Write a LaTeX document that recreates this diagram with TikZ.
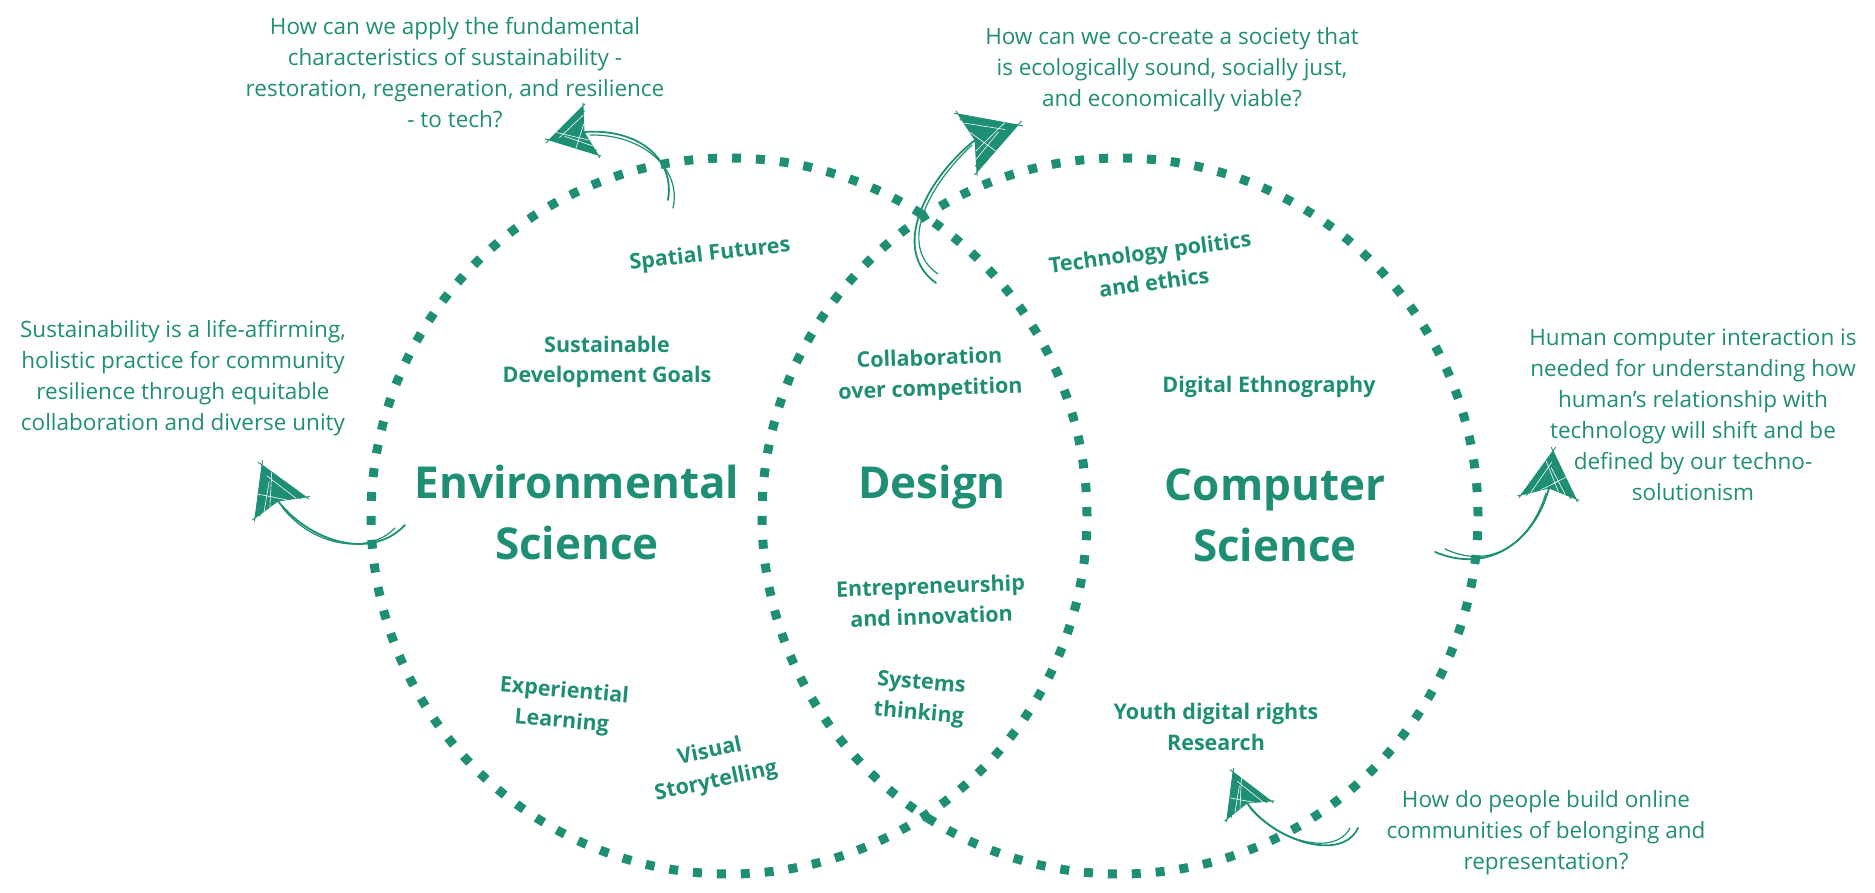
\documentclass[tikz,border=0pt]{standalone}
\usepackage{fontspec}
\setmainfont{Open Sans}
\usetikzlibrary{calc}
\definecolor{vennteal}{RGB}{30,142,116}

% scribbled dart head: #1t tip, #1a corner, #1n notch, #1b corner
\newcommand\sketchhead[1]{%
  \fill[vennteal] (#1t) -- (#1a) -- (#1n) -- (#1b) -- cycle;
  \draw[vennteal, line width=0.9pt, line cap=round, line join=round]
    ($(#1t)!-0.08!(#1a)$) -- ($(#1a)!-0.06!(#1t)$)
    ($(#1t)!-0.08!(#1b)$) -- ($(#1b)!-0.06!(#1t)$)
    ($(#1a)!-0.12!(#1n)$) -- (#1n) -- ($(#1b)!-0.12!(#1n)$)
    ($(#1t)!0.06!(#1a)$) -- ($(#1a)!0.1!(#1b)$)
    ($(#1t)!0.06!(#1b)$) -- ($(#1b)!0.1!(#1a)$)
    ($(#1a)!0.05!(#1t)$) -- ($(#1n)!0.2!(#1t)$) -- ($(#1b)!0.05!(#1t)$);
  \draw[white, line width=0.6pt, line cap=round]
    ($(#1t)!0.3!(#1n)$) -- ($(#1a)!0.35!(#1n)$)
    ($(#1t)!0.45!(#1n)$) -- ($(#1b)!0.4!(#1n)$)
    ($(#1t)!0.22!(#1a)$) -- ($(#1n)!0.35!(#1b)$)
    ($(#1t)!0.55!(#1b)$) -- ($(#1n)!0.3!(#1a)$);
}

\begin{document}
\begin{tikzpicture}[x=1pt,y=-1pt,
  ring/.style={draw=vennteal, line width=9pt, dash pattern=on 9pt off 14.93pt},
  question/.style={text=vennteal, align=center, inner sep=0pt,
    font=\fontsize{22.5}{31}\selectfont},
  topic/.style={text=vennteal, align=center, inner sep=0pt,
    font=\fontsize{21.5}{30.5}\selectfont\bfseries},
  field/.style={text=vennteal, align=center, inner sep=0pt,
    font=\fontsize{44}{61}\selectfont\bfseries},
  tail/.style={draw=vennteal, line width=1.8pt, line cap=round},
  tailthin/.style={draw=vennteal, line width=1.2pt, line cap=round}]

\useasboundingbox (0,0) rectangle (1875,893);

% the two overlapping fields
\draw[ring] (729,516) circle [radius=358pt];
\draw[ring] (1120,516) circle [radius=358pt];

% field names
\node[field] (env) at (577,512) {Environmental\\Science};
\node[field] (des) at (932,487) {Design};
\node[field] (cs)  at (1275,515) {Computer\\Science};

% topics
\node[topic, rotate=6.5] (spatial) at (710,255) {Spatial Futures};
\node[topic] (sdg) at (607,362) {Sustainable\\Development Goals};
\node[topic, rotate=2] (collab) at (930,375) {Collaboration\\over competition};
\node[topic, rotate=7.5] (techpol) at (1152,267) {Technology politics\\and ethics};
\node[topic] (ethno) at (1269,387) {Digital Ethnography};
\node[topic, rotate=2] (entre) at (931,601) {Entrepreneurship\\and innovation};
\node[topic, rotate=-5] (systems) at (920,699) {Systems\\thinking};
\node[topic, rotate=-5] (exper) at (563,707) {Experiential\\Learning};
\node[topic, rotate=12] (visual) at (713,767) {Visual\\Storytelling};
\node[topic] (youth) at (1216,727) {Youth digital rights\\Research};

% guiding questions
\node[question] (qtl) at (455,73) {How can we apply the fundamental\\characteristics of sustainability -\\restoration, regeneration, and resilience\\- to tech?};
\node[question] (qtr) at (1172,70) {How can we co-create a society that\\is ecologically sound, socially just,\\and economically viable?};
\node[question] (ql) at (183,378) {Sustainability is a life-affirming,\\holistic practice for community\\resilience through equitable\\collaboration and diverse unity};
\node[question] (qr) at (1693,415) {Human computer interaction is\\needed for understanding how\\human’s relationship with\\technology will shift and be\\defined by our techno-\\solutionism};
\node[question] (qbr) at (1546,833) {How do people build online\\communities of belonging and\\representation?};

% hand-drawn arrows: heads
\coordinate (h1t) at (549,140); \coordinate (h1a) at (583,106);
\coordinate (h1n) at (584,132); \coordinate (h1b) at (598,155);
\coordinate (h2t) at (262,465); \coordinate (h2a) at (306,497);
\coordinate (h2n) at (278,501); \coordinate (h2b) at (255,518);
\coordinate (h3t) at (1018,125); \coordinate (h3a) at (958,114);
\coordinate (h3n) at (975,140); \coordinate (h3b) at (977,172);
\coordinate (h4t) at (1553,451); \coordinate (h4a) at (1521,495);
\coordinate (h4n) at (1549,488); \coordinate (h4b) at (1576,499);
\coordinate (h5t) at (1233,772); \coordinate (h5a) at (1271,801);
\coordinate (h5n) at (1247,803); \coordinate (h5b) at (1227,819);

% tail ends
\coordinate (e1) at (668,200);  \coordinate (e1b) at (673,208);
\coordinate (e2) at (405,525);  \coordinate (e2b) at (395,528);
\coordinate (e3) at (936,283);  \coordinate (e3b) at (938,274);
\coordinate (e4) at (1435,552); \coordinate (e4b) at (1445,549);
\coordinate (e5) at (1358,828); \coordinate (e5b) at (1350,828);

% tails
\draw[tail] (h1n) .. controls (640,128) and (675,160) .. (e1);
\draw[tailthin] ($(h1n)+(6,3)$) .. controls (642,134) and (682,168) .. (e1b);
\draw[tail] (h2n) .. controls (308,540) and (370,562) .. (e2);
\draw[tailthin] ($(h2n)+(4,6)$) .. controls (312,546) and (368,556) .. (e2b);
\draw[tail] (h3n) .. controls (925,180) and (890,250) .. (e3);
\draw[tailthin] ($(h3n)+(-3,5)$) .. controls (928,186) and (897,246) .. (e3b);
\draw[tail] (h4n) .. controls (1535,540) and (1490,575) .. (e4);
\draw[tailthin] ($(h4n)+(-3,5)$) .. controls (1530,545) and (1490,570) .. (e4b);
\draw[tail] (h5n) .. controls (1275,842) and (1342,862) .. (e5);
\draw[tailthin] ($(h5n)+(3,5)$) .. controls (1280,843) and (1336,856) .. (e5b);

\sketchhead{h1}
\sketchhead{h2}
\sketchhead{h3}
\sketchhead{h4}
\sketchhead{h5}
\end{tikzpicture}
\end{document}
